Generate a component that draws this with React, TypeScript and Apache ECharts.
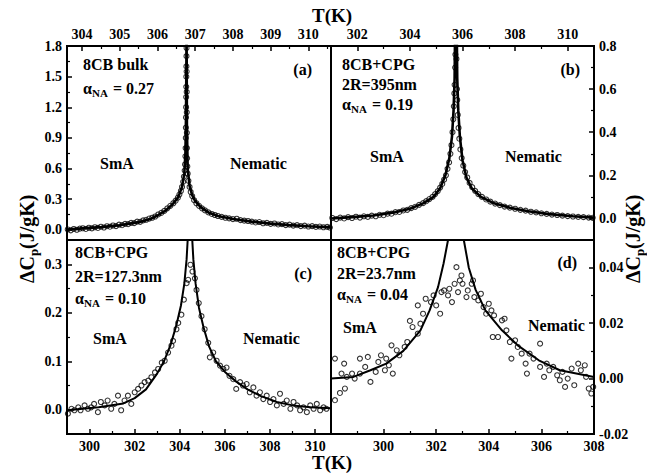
import React, { useEffect, useRef } from "react";
import * as echarts from "echarts";

const FONT = "Liberation Serif, Times New Roman, serif";

// ---------- Panel (a): 8CB bulk ----------
const aPoints = [
  [303.62, 0.003], [303.7, -0.005], [303.78, 0.008], [303.86, 0.0], [303.94, 0.012], [304.02, 0.015],
  [304.1, 0.008], [304.18, 0.02], [304.26, 0.014], [304.34, 0.025], [304.42, 0.018], [304.5, 0.03],
  [304.58, 0.022], [304.66, 0.035], [304.74, 0.03], [304.82, 0.042], [304.9, 0.036], [304.98, 0.05],
  [305.06, 0.045], [305.14, 0.058], [305.22, 0.055], [305.3, 0.068], [305.38, 0.065], [305.46, 0.08],
  [305.54, 0.078], [305.62, 0.092], [305.7, 0.098], [305.78, 0.11], [305.86, 0.118], [305.94, 0.13],
  [306.02, 0.15], [306.1, 0.165], [306.18, 0.185], [306.26, 0.21], [306.34, 0.235], [306.42, 0.26],
  [306.48, 0.285], [306.54, 0.315], [306.58, 0.345], [306.62, 0.38], [306.65, 0.42], [306.68, 0.47],
  [306.7, 0.52], [306.72, 0.58], [306.73, 0.64], [306.74, 0.72], [306.745, 0.8], [306.75, 0.9],
  [306.752, 1.0], [306.755, 1.1], [306.758, 1.2], [306.76, 1.3], [306.762, 1.4], [306.764, 1.5],
  [306.766, 1.6], [306.768, 1.7], [306.77, 1.78], [306.772, 1.55], [306.774, 1.35], [306.776, 1.15],
  [306.778, 0.95], [306.78, 0.8], [306.785, 0.7], [306.79, 0.62], [306.8, 0.55], [306.82, 0.48],
  [306.85, 0.42], [306.88, 0.37], [306.92, 0.33], [306.97, 0.29], [307.03, 0.26], [307.1, 0.235],
  [307.18, 0.21], [307.26, 0.19], [307.35, 0.17], [307.44, 0.155], [307.52, 0.145], [307.6, 0.135],
  [307.7, 0.127], [307.8, 0.118], [307.9, 0.112], [308.0, 0.105], [308.1, 0.108], [308.2, 0.095],
  [308.3, 0.09], [308.4, 0.086], [308.5, 0.08], [308.6, 0.072], [308.7, 0.076], [308.8, 0.064],
  [308.9, 0.068], [309.0, 0.058], [309.1, 0.062], [309.2, 0.052], [309.3, 0.056], [309.4, 0.046],
  [309.5, 0.05], [309.6, 0.041], [309.7, 0.045], [309.8, 0.036], [309.9, 0.04], [310.0, 0.032],
  [310.1, 0.036], [310.2, 0.028], [310.3, 0.032], [310.4, 0.025], [310.5, 0.028], [310.57, 0.022],
];
const aFit = [
  [303.6, 0.002], [304.0, 0.014], [304.5, 0.026], [305.0, 0.045], [305.5, 0.075], [305.8, 0.105],
  [306.0, 0.14], [306.2, 0.185], [306.4, 0.25], [306.55, 0.32], [306.65, 0.42], [306.71, 0.55],
  [306.74, 0.75], [306.755, 1.1], [306.765, 1.6], [306.77, 2.0], [306.772, 2.0], [306.775, 1.5],
  [306.78, 1.0], [306.8, 0.6], [306.85, 0.43], [306.92, 0.34], [307.0, 0.28], [307.15, 0.22],
  [307.35, 0.17], [307.6, 0.135], [308.0, 0.105], [308.5, 0.08], [309.0, 0.06], [309.5, 0.046],
  [310.0, 0.034], [310.6, 0.024],
];
const aXTicks = [304, 305, 306, 307, 308, 309, 310];
const aXMinor = [304.5, 305.5, 306.5, 307.5, 308.5, 309.5, 310.5];
const aYTicks = [0, 0.3, 0.6, 0.9, 1.2, 1.5, 1.8];
const aYMinor = [0.15, 0.45, 0.75, 1.05, 1.35, 1.65];

// ---------- Panel (b): 8CB+CPG 2R=395nm ----------
const bPoints = [
  [301.05, 0.002], [301.2, -0.003], [301.35, 0.004], [301.5, 0.0], [301.65, 0.006], [301.8, 0.002],
  [301.95, 0.008], [302.1, 0.004], [302.25, 0.01], [302.4, 0.007], [302.55, 0.013], [302.7, 0.01],
  [302.85, 0.017], [303.0, 0.015], [303.15, 0.022], [303.3, 0.022], [303.45, 0.029], [303.6, 0.03],
  [303.75, 0.037], [303.9, 0.04], [304.05, 0.048], [304.2, 0.054], [304.35, 0.063], [304.5, 0.071],
  [304.62, 0.08], [304.74, 0.09], [304.86, 0.1], [304.96, 0.113], [305.06, 0.127], [305.15, 0.143],
  [305.23, 0.16], [305.3, 0.18], [305.37, 0.2], [305.43, 0.23], [305.49, 0.26], [305.54, 0.3],
  [305.58, 0.34], [305.62, 0.4], [305.65, 0.46], [305.67, 0.52], [305.69, 0.58], [305.7, 0.62],
  [305.72, 0.7], [305.73, 0.76], [305.77, 0.74], [305.79, 0.6], [305.8, 0.55], [305.82, 0.48],
  [305.85, 0.42], [305.88, 0.37], [305.92, 0.32], [305.97, 0.28], [306.03, 0.245], [306.1, 0.215],
  [306.18, 0.19], [306.27, 0.165], [306.37, 0.145], [306.48, 0.128], [306.6, 0.113], [306.74, 0.1],
  [306.9, 0.088], [307.06, 0.078], [307.24, 0.069], [307.42, 0.062], [307.6, 0.055], [307.8, 0.05],
  [308.0, 0.045], [308.2, 0.04], [308.4, 0.036], [308.6, 0.031], [308.8, 0.028], [309.0, 0.024],
  [309.2, 0.021], [309.4, 0.018], [309.6, 0.016], [309.8, 0.013], [310.0, 0.011], [310.2, 0.009],
  [310.4, 0.007], [310.6, 0.006], [310.8, 0.004], [310.95, 0.003],
];
const bFit = [
  [301.0, 0.0], [301.8, 0.006], [302.6, 0.014], [303.4, 0.028], [304.0, 0.045], [304.5, 0.07],
  [304.9, 0.1], [305.15, 0.14], [305.35, 0.2], [305.5, 0.28], [305.6, 0.38], [305.66, 0.5],
  [305.7, 0.65], [305.72, 0.9], [305.78, 0.9], [305.8, 0.65], [305.84, 0.5], [305.9, 0.38],
  [306.0, 0.27], [306.15, 0.19], [306.35, 0.14], [306.7, 0.1], [307.2, 0.07], [307.8, 0.05],
  [308.5, 0.033], [309.3, 0.02], [310.2, 0.01], [311.0, 0.004],
];
const bXTicks = [302, 304, 306, 308, 310];
const bXMinor = [303, 305, 307, 309];
const bYTicks = [0, 0.2, 0.4, 0.6, 0.8];
const bYMinor = [0.1, 0.3, 0.5, 0.7];

// ---------- Panel (c): 8CB+CPG 2R=127.3nm ----------
const cPoints = [
  [299.04, -0.008], [299.2, 0.002], [299.33, -0.001], [299.5, 0.005], [299.6, -0.001], [299.78, 0.009],
  [299.93, 0.002], [300.07, 0.005], [300.2, 0.012], [300.37, -0.005], [300.5, 0.016], [300.67, 0.009],
  [300.8, 0.019], [300.96, 0.002], [301.1, 0.012], [301.26, 0.029], [301.4, -0.001], [301.55, 0.019],
  [301.7, 0.029], [301.85, 0.012], [302.0, 0.036], [302.15, 0.043], [302.3, 0.05], [302.44, 0.057],
  [302.6, 0.06], [302.74, 0.067], [302.9, 0.077], [303.04, 0.084], [303.2, 0.097], [303.33, 0.101],
  [303.48, 0.118], [303.63, 0.132], [303.7, 0.142], [303.85, 0.166], [303.93, 0.179], [304.07, 0.196],
  [304.18, 0.227], [304.3, 0.261], [304.37, 0.268], [304.47, 0.299], [304.56, 0.285], [304.67, 0.271],
  [304.74, 0.247], [304.84, 0.22], [304.96, 0.193], [305.1, 0.166], [305.26, 0.138], [305.33, 0.108],
  [305.48, 0.118], [305.63, 0.101], [305.78, 0.091], [305.93, 0.084], [306.07, 0.087], [306.2, 0.07],
  [306.37, 0.063], [306.5, 0.043], [306.67, 0.057], [306.8, 0.05], [306.96, 0.053], [307.1, 0.036],
  [307.26, 0.046], [307.4, 0.029], [307.55, 0.036], [307.7, 0.022], [307.85, 0.029], [308.0, 0.016],
  [308.15, 0.022], [308.3, 0.009], [308.44, 0.033], [308.6, 0.012], [308.74, 0.019], [308.9, 0.002],
  [309.04, 0.016], [309.2, 0.009], [309.33, -0.001], [309.48, 0.005], [309.63, -0.005], [309.78, 0.009],
  [309.93, 0.002], [310.07, 0.012], [310.22, -0.001], [310.37, 0.005], [310.5, 0.002],
];
const cFit = [
  [299.0, -0.001], [300.4, 0.005], [301.5, 0.013], [302.0, 0.024], [302.5, 0.042], [303.0, 0.075],
  [303.3, 0.1], [303.6, 0.135], [303.85, 0.175], [304.05, 0.215], [304.2, 0.26], [304.3, 0.31],
  [304.36, 0.36], [304.4, 0.5], [304.5, 0.5], [304.54, 0.36], [304.6, 0.31], [304.7, 0.26],
  [304.85, 0.21], [305.05, 0.17], [305.3, 0.13], [305.6, 0.1], [306.0, 0.078], [306.5, 0.058],
  [307.0, 0.042], [307.6, 0.028], [308.3, 0.016], [309.0, 0.009], [309.8, 0.005], [310.7, 0.003],
];
const cXTicks = [300, 302, 304, 306, 308, 310];
const cXMinor = [301, 303, 305, 307, 309];
const cYTicks = [0, 0.1, 0.2, 0.3];
const cYMinor = [0.05, 0.15, 0.25];

// ---------- Panel (d): 8CB+CPG 2R=23.7nm ----------
const dPoints = [
  [298.15, 0.0072], [298.5, 0.0054], [298.15, -0.0078], [298.34, -0.0052], [298.53, -0.0036],
  [298.4, 0.0018], [298.6, 0.0006], [298.8, 0.0018], [298.9, 0.0], [299.1, 0.0018], [299.3, 0.0042],
  [299.1, 0.0072], [299.4, 0.0078], [299.5, -0.0012], [299.7, 0.0024], [299.8, 0.006], [299.9, 0.0084],
  [300.1, 0.0072], [300.2, 0.0048], [300.35, 0.0018], [300.05, 0.003], [300.3, 0.012], [300.5, 0.0102],
  [300.6, 0.0084], [300.8, 0.0114], [300.9, 0.0132], [301.0, 0.0208], [301.1, 0.0186], [301.3, 0.0162],
  [301.4, 0.0198], [301.3, 0.0264], [301.5, 0.0234], [301.6, 0.0288], [301.8, 0.0276], [301.9, 0.03],
  [302.0, 0.0264], [302.15, 0.0234], [302.2, 0.0312], [302.3, 0.0318], [302.45, 0.03], [302.5, 0.0324],
  [302.6, 0.0276], [302.7, 0.0342], [302.77, 0.0402], [302.83, 0.0312], [302.9, 0.0354], [302.96, 0.0372],
  [303.0, 0.0342], [303.15, 0.0294], [303.2, 0.0318], [303.35, 0.0342], [303.4, 0.0354], [303.45, 0.0294],
  [303.6, 0.0282], [303.7, 0.0306], [303.8, 0.0258], [303.9, 0.0234], [304.0, 0.027], [304.1, 0.0246],
  [304.2, 0.0228], [304.15, 0.015], [304.35, 0.015], [304.5, 0.021], [304.6, 0.0216], [304.67, 0.0174],
  [304.8, 0.0132], [304.86, 0.0072], [305.0, 0.0138], [305.1, 0.0114], [305.25, 0.009], [305.4, 0.0054],
  [305.45, 0.0018], [305.55, 0.009], [305.7, 0.0072], [305.95, 0.0126], [305.95, 0.0042], [306.1, 0.0006],
  [306.2, 0.0054], [306.3, 0.003], [306.45, 0.0042], [306.6, 0.0012], [306.7, -0.0006], [306.8, 0.0024],
  [306.9, -0.003], [307.0, 0.0], [307.15, 0.0036], [307.25, -0.0024], [307.4, 0.0054], [307.5, 0.003],
  [307.65, 0.0048], [307.7, 0.0006], [307.8, -0.0036], [307.9, -0.0054], [307.97, -0.003],
];
const dFit = [
  [298.0, 0.0], [298.85, 0.0006], [299.5, 0.003], [300.1, 0.0054], [300.75, 0.01], [301.4, 0.0174],
  [301.75, 0.0246], [302.07, 0.033], [302.28, 0.0415], [302.45, 0.05], [302.55, 0.06], [302.95, 0.06],
  [303.05, 0.05], [303.24, 0.04], [303.5, 0.032], [303.87, 0.0246], [304.5, 0.0174], [305.1, 0.012],
  [305.9, 0.0066], [306.7, 0.003], [308.0, 0.0006],
];
const dXTicks = [300, 302, 304, 306, 308];
const dXMinor = [299, 301, 303, 305, 307];
const dYTicks = [-0.02, 0, 0.02, 0.04];
const dYMinor = [-0.01, 0.01, 0.03];

type Panel = {
  left: number; top: number; width: number; height: number;
  xPos: string; yPos: string;
  xMin: number; xMax: number; yMin: number; yMax: number;
  xT: number[]; xM: number[]; yT: number[]; yM: number[];
  yDigits: number; pts: number[][]; fit: number[][]; lw: number;
};

const panels: Panel[] = [
  { left: 67, top: 46, width: 264, height: 194, xPos: "top", yPos: "left", xMin: 303.6, xMax: 310.6, yMin: -0.1, yMax: 1.8, xT: aXTicks, xM: aXMinor, yT: aYTicks, yM: aYMinor, yDigits: 1, pts: aPoints, fit: aFit, lw: 2.6 },
  { left: 331, top: 46, width: 263, height: 194, xPos: "top", yPos: "right", xMin: 301, xMax: 311, yMin: -0.1, yMax: 0.8, xT: bXTicks, xM: bXMinor, yT: bYTicks, yM: bYMinor, yDigits: 1, pts: bPoints, fit: bFit, lw: 2.6 },
  { left: 67, top: 240, width: 264, height: 194, xPos: "bottom", yPos: "left", xMin: 299, xMax: 310.7, yMin: -0.05, yMax: 0.35, xT: cXTicks, xM: cXMinor, yT: cYTicks, yM: cYMinor, yDigits: 1, pts: cPoints, fit: cFit, lw: 2 },
  { left: 331, top: 240, width: 263, height: 194, xPos: "bottom", yPos: "right", xMin: 298, xMax: 308, yMin: -0.02, yMax: 0.05, xT: dXTicks, xM: dXMinor, yT: dYTicks, yM: dYMinor, yDigits: 2, pts: dPoints, fit: dFit, lw: 2 },
];

function axisPair(gridIndex: number, position: string, min: number, max: number, major: number[], minor: number[], digits: number) {
  const common = {
    gridIndex, type: "value", position, min, max,
    splitLine: { show: false },
    axisLine: { show: false, onZero: false },
  };
  return [
    {
      ...common,
      axisTick: { show: true, inside: true, length: 5, customValues: major, lineStyle: { color: "#000", width: 1.5 } },
      axisLabel: {
        show: true, customValues: major, color: "#000", fontFamily: FONT, fontWeight: "bold", fontSize: 14, margin: 5,
        formatter: (v: number) => Number(v).toFixed(digits),
      },
    },
    {
      ...common,
      axisTick: { show: true, inside: true, length: 3, customValues: minor, lineStyle: { color: "#000", width: 1.2 } },
      axisLabel: { show: false },
    },
  ];
}

const txt = (text: string, x: number, y: number, size = 16, align = "left") => ({
  type: "text", x, y, silent: true,
  style: {
    text, fill: "#000", fontFamily: FONT, fontWeight: "bold", fontSize: size,
    align, textAlign: align, verticalAlign: "middle", textVerticalAlign: "middle",
  },
});

const alpha = (x: number, y: number, val: string) => [
  txt("α", x, y), txt("NA", x + 9, y + 5, 11), txt("= " + val, x + 30, y),
];

const yTitle = (x: number, y: number) => ({
  type: "group", x, y, rotation: Math.PI / 2, silent: true,
  children: [txt("ΔC", -45, 0, 20), txt("p", -18, 6, 13), txt("(J/gK)", -11, 0, 20)],
});

export default function App() {
  const ref = useRef<HTMLDivElement>(null);
  useEffect(() => {
    document.body.style.margin = "0";
    const chart = echarts.init(ref.current!, null, { renderer: "svg" });
    const xAxis: any[] = [];
    const yAxis: any[] = [];
    const series: any[] = [];
    panels.forEach((p, i) => {
      xAxis.push(...axisPair(i, p.xPos, p.xMin, p.xMax, p.xT, p.xM, 0));
      yAxis.push(...axisPair(i, p.yPos, p.yMin, p.yMax, p.yT, p.yM, p.yDigits));
      series.push({
        type: "scatter", xAxisIndex: 2 * i, yAxisIndex: 2 * i, data: p.pts,
        symbol: "circle", symbolSize: 5, silent: true, z: 2,
        itemStyle: { color: "rgba(255,255,255,0)", borderColor: "#000", borderWidth: 1.1 },
      });
      series.push({
        type: "line", xAxisIndex: 2 * i, yAxisIndex: 2 * i, data: p.fit,
        showSymbol: false, symbol: "none", clip: true, silent: true, z: 3,
        lineStyle: { color: "#000", width: p.lw },
      });
    });
    chart.setOption({
      animation: false,
      backgroundColor: "#fff",
      grid: panels.map((p) => ({
        left: p.left, top: p.top, width: p.width, height: p.height,
        show: true, borderColor: "#000", borderWidth: 2, backgroundColor: "rgba(0,0,0,0)",
      })),
      xAxis, yAxis, series,
      graphic: [
        txt("T(K)", 332, 15, 19, "center"),
        txt("T(K)", 332, 462, 19, "center"),
        yTitle(27, 238),
        yTitle(633, 238),
        // (a)
        txt("8CB bulk", 83, 64), ...alpha(83, 88, "0.27"), txt("(a)", 312, 69, 16, "right"),
        txt("SmA", 100, 163), txt("Nematic", 230, 163),
        // (b)
        txt("8CB+CPG", 342, 64), txt("2R=395nm", 342, 84), ...alpha(342, 104, "0.19"),
        txt("(b)", 580, 69, 16, "right"), txt("SmA", 370, 156), txt("Nematic", 505, 156),
        // (c)
        txt("8CB+CPG", 75, 252), txt("2R=127.3nm", 75, 276), ...alpha(75, 298, "0.10"),
        txt("(c)", 312, 273, 16, "right"), txt("SmA", 93, 338), txt("Nematic", 243, 338),
        // (d)
        txt("8CB+CPG", 337, 252), txt("2R=23.7nm", 337, 273), ...alpha(337, 294, "0.04"),
        txt("(d)", 577, 262, 16, "right"), txt("SmA", 343, 327), txt("Nematic", 528, 325),
      ],
    });
    return () => chart.dispose();
  }, []);
  return <div ref={ref} style={{ width: 647, height: 474 }} />;
}
